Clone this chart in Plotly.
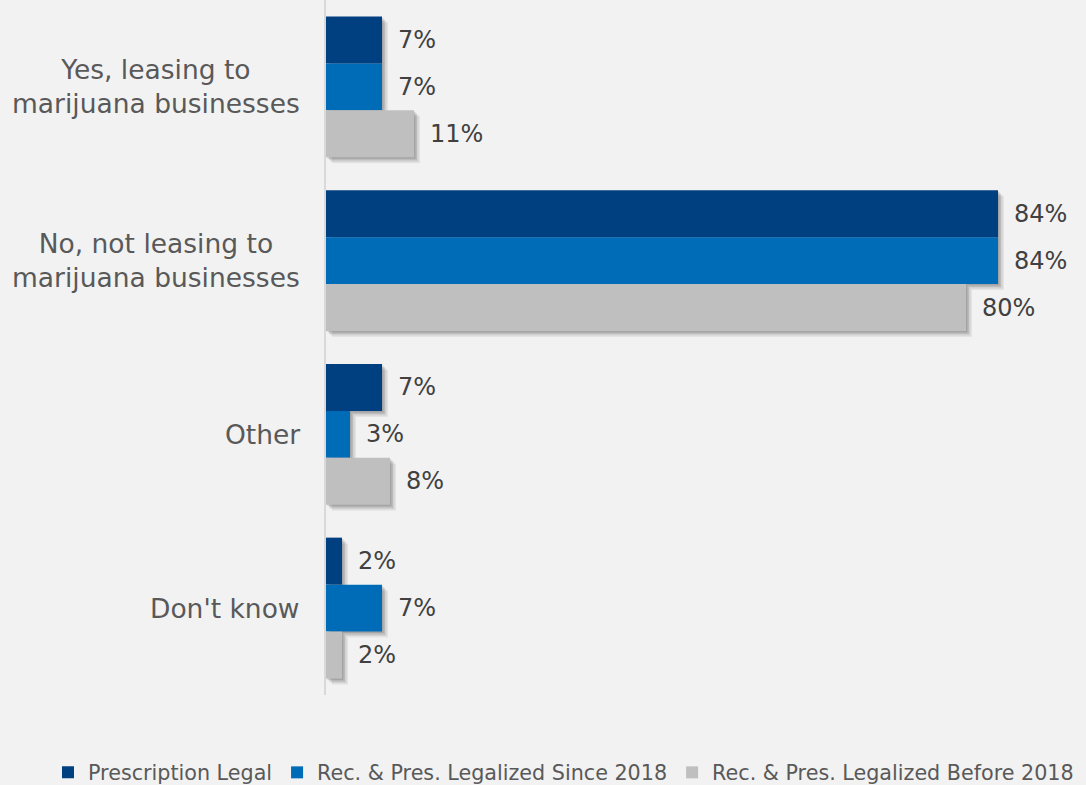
import plotly.graph_objects as go

categories = ["Yes, leasing to<br>marijuana businesses", "No, not leasing to<br>marijuana businesses", "Other", "Don't know"]
series_names = ["Prescription Legal", "Rec. & Pres. Legalized Since 2018", "Rec. & Pres. Legalized Before 2018"]
prescription = [7, 84, 7, 2]
since_2018 = [7, 84, 3, 7]
before_2018 = [11, 80, 8, 2]
colors = ["#003f80", "#006bb6", "#bfbfbf"]

series_values = [prescription, since_2018, before_2018]
FONT = "DejaVu Sans"
TEXT = "#595959"

BAND_PX = 173.75
BAR_W = 0.2705
GROUP_START = -1.5 * BAR_W
PX_X = 8.0  # pixels per percent

fig = go.Figure()
# soft drop shadows (drawn first, underneath)
for i, vals in enumerate(series_values):
    for shift, alpha in ((6, 0.06), (4.5, 0.08), (3, 0.10), (1.5, 0.12)):
        fig.add_trace(go.Bar(
            y=categories, x=vals, orientation="h", base=shift / PX_X,
            offset=GROUP_START + i * BAR_W + shift / BAND_PX, width=BAR_W,
            marker=dict(color=f"rgba(0,0,0,{alpha})", line=dict(width=0)),
            hoverinfo="skip", showlegend=False,
        ))
for i, (name, vals, col) in enumerate(zip(series_names, series_values, colors)):
    fig.add_trace(go.Bar(
        y=categories, x=vals, name=name, orientation="h",
        offset=GROUP_START + i * BAR_W, width=BAR_W,
        marker=dict(color=col, line=dict(width=0)),
        hoverinfo="skip",
    ))

annotations = []
bar_px = BAR_W * BAND_PX
for i, vals in enumerate(series_values):
    for cat, v in zip(categories, vals):
        annotations.append(dict(
            x=v, y=cat, xref="x", yref="y", text=f"{v}%", showarrow=False,
            xanchor="left", yanchor="middle", xshift=14, yshift=(1 - i) * bar_px,
            font=dict(family=FONT, size=24, color="#404040"),
        ))
for cat in categories:
    annotations.append(dict(
        x=0, y=cat, xref="paper", yref="y", text=cat, showarrow=False,
        xanchor="right", yanchor="middle", xshift=-24, align="center",
        font=dict(family=FONT, size=26.5, color=TEXT),
    ))

fig.update_layout(
    width=1086, height=785,
    paper_bgcolor="#f2f2f2", plot_bgcolor="#f2f2f2",
    margin=dict(l=326, r=0, t=0, b=90, autoexpand=False),
    barmode="overlay",
    xaxis=dict(range=[0, 95], visible=False, showgrid=False, zeroline=False),
    yaxis=dict(autorange="reversed", showticklabels=False, showline=True,
               linecolor="#d9d9d9", linewidth=1.5, ticks="", showgrid=False),
    legend=dict(orientation="h", xref="paper", x=-0.3658, xanchor="left",
                yref="paper", y=-0.0826, yanchor="top",
                font=dict(family=FONT, size=20.7, color=TEXT),
                itemwidth=30, traceorder="normal", bgcolor="rgba(0,0,0,0)"),
    annotations=annotations,
    showlegend=True,
)
fig.write_html("out.html", config={"displayModeBar": False},
               post_script="document.body.style.margin='0';")
